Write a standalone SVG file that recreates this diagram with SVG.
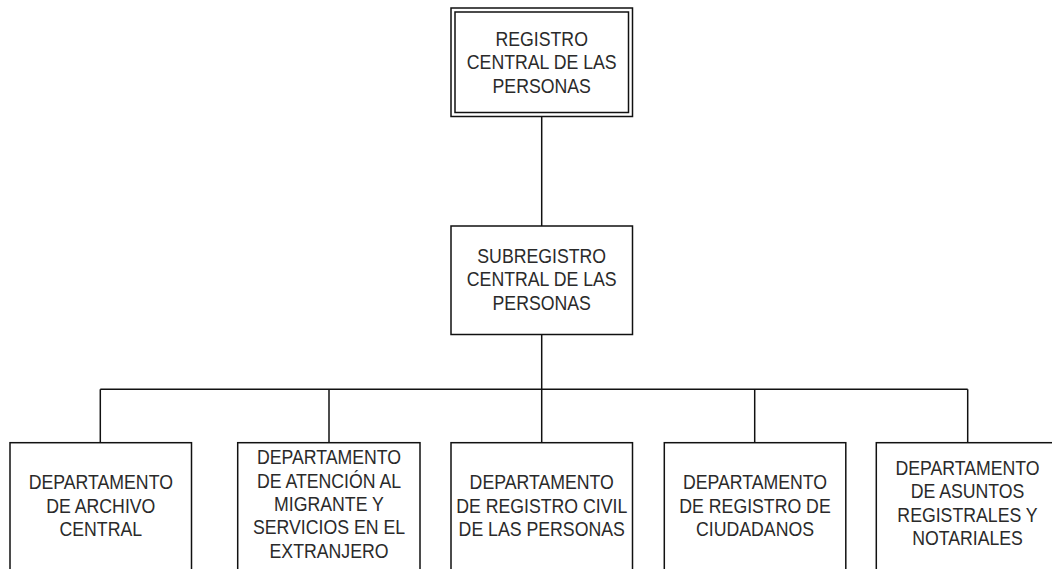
<svg xmlns="http://www.w3.org/2000/svg" width="1052" height="569" viewBox="0 0 1052 569">
<style>
.box{fill:#fff;stroke:#111;stroke-width:1.5}
.conn{fill:none;stroke:#111;stroke-width:1.5}
.lbl{font-family:"Liberation Sans",Arial,sans-serif;font-size:20px;fill:#2a2a2a;text-anchor:middle}
</style>
<rect width="1052" height="569" fill="#fff"/>
<g id="connectors">
<line class="conn" x1="541.7" y1="116.5" x2="541.7" y2="226"/>
<line class="conn" x1="541.7" y1="334.5" x2="541.7" y2="442.7"/>
<line class="conn" x1="100.3" y1="389.3" x2="967.7" y2="389.3"/>
<line class="conn" x1="100.3" y1="389.3" x2="100.3" y2="442.7"/>
<line class="conn" x1="329" y1="389.3" x2="329" y2="442.7"/>
<line class="conn" x1="754.7" y1="389.3" x2="754.7" y2="442.7"/>
<line class="conn" x1="967.7" y1="389.3" x2="967.7" y2="442.7"/>
</g>
<g id="registro">
<rect class="box" x="451" y="8" width="181.5" height="108.5"/>
<rect class="box" x="455" y="12" width="173.5" height="100.5"/>
<text class="lbl" transform="translate(541.7 0) scale(0.885 1)"><tspan x="0" y="46">REGISTRO</tspan><tspan x="0" y="69.3">CENTRAL DE LAS</tspan><tspan x="0" y="92.6">PERSONAS</tspan></text>
</g>
<g id="subregistro">
<rect class="box" x="451" y="226" width="181.5" height="108.5"/>
<text class="lbl" transform="translate(541.7 0) scale(0.885 1)"><tspan x="0" y="263">SUBREGISTRO</tspan><tspan x="0" y="286.3">CENTRAL DE LAS</tspan><tspan x="0" y="309.6">PERSONAS</tspan></text>
</g>
<g id="archivo">
<rect class="box" x="10" y="442.7" width="181.5" height="140"/>
<text class="lbl" transform="translate(100.8 0) scale(0.885 1)"><tspan x="0" y="489.5">DEPARTAMENTO</tspan><tspan x="0" y="512.8">DE ARCHIVO</tspan><tspan x="0" y="536.1">CENTRAL</tspan></text>
</g>
<g id="migrante">
<rect class="box" x="237.7" y="442.7" width="182.3" height="140"/>
<text class="lbl" transform="translate(329 0) scale(0.885 1)"><tspan x="0" y="464.5">DEPARTAMENTO</tspan><tspan x="0" y="487.8">DE ATENCIÓN AL</tspan><tspan x="0" y="511.1">MIGRANTE Y</tspan><tspan x="0" y="534.4">SERVICIOS EN EL</tspan><tspan x="0" y="557.7">EXTRANJERO</tspan></text>
</g>
<g id="civil">
<rect class="box" x="451" y="442.7" width="181.5" height="140"/>
<text class="lbl" transform="translate(541.7 0) scale(0.885 1)"><tspan x="0" y="489.5">DEPARTAMENTO</tspan><tspan x="0" y="512.8">DE REGISTRO CIVIL</tspan><tspan x="0" y="536.1">DE LAS PERSONAS</tspan></text>
</g>
<g id="ciudadanos">
<rect class="box" x="664.3" y="442.7" width="181.5" height="140"/>
<text class="lbl" transform="translate(755 0) scale(0.885 1)"><tspan x="0" y="489.5">DEPARTAMENTO</tspan><tspan x="0" y="512.8">DE REGISTRO DE</tspan><tspan x="0" y="536.1">CIUDADANOS</tspan></text>
</g>
<g id="notariales">
<rect class="box" x="876.3" y="442.7" width="181.5" height="140"/>
<text class="lbl" transform="translate(967.5 0) scale(0.885 1)"><tspan x="0" y="475">DEPARTAMENTO</tspan><tspan x="0" y="498.3">DE ASUNTOS</tspan><tspan x="0" y="521.6">REGISTRALES Y</tspan><tspan x="0" y="544.9">NOTARIALES</tspan></text>
</g>
</svg>
